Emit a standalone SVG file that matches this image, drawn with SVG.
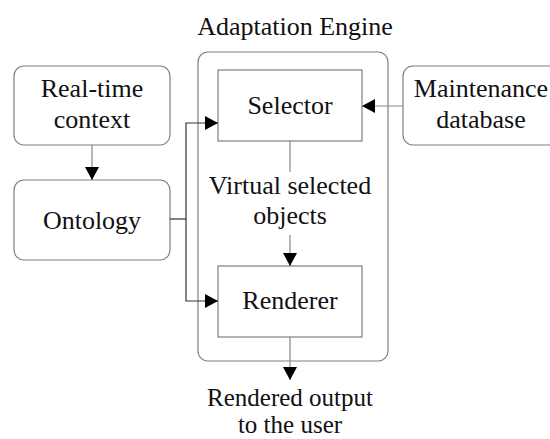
<svg xmlns="http://www.w3.org/2000/svg" width="550" height="439" viewBox="0 0 550 439">
<defs>
<style>
.box{fill:#fff;stroke:#7f7f7f;stroke-width:1.2}
text{font-family:'Liberation Serif','Times New Roman','DejaVu Serif',serif;font-size:26px;fill:#111;text-anchor:middle}
.c{fill:none;stroke:#333;stroke-width:1.2}
.g{fill:none;stroke:#888;stroke-width:1.2}
</style>
<marker id="ah" markerWidth="13" markerHeight="14" refX="13" refY="7" orient="auto" markerUnits="userSpaceOnUse">
<path d="M0,0 L13,7 L0,14 Z" fill="#000"/>
</marker>
</defs>
<rect width="550" height="439" fill="#fff"/>
<g font-family="Liberation Serif, serif" font-size="26">
<g id="engine">
<rect class="box" x="198" y="52" width="190" height="309" rx="10"/>
<text x="295" y="35">Adaptation Engine</text>
</g>
<g id="realtime">
<rect class="box" x="14" y="66" width="156" height="79" rx="10"/>
<text x="92" y="97">Real-time</text>
<text x="92" y="128">context</text>
</g>
<g id="ontology">
<rect class="box" x="14" y="180" width="156" height="80" rx="10"/>
<text x="92" y="229">Ontology</text>
</g>
<g id="selector">
<rect class="box" x="218" y="70" width="144" height="71"/>
<text x="290" y="114">Selector</text>
</g>
<g id="renderer">
<rect class="box" x="218" y="266" width="144" height="71"/>
<text x="290" y="309">Renderer</text>
</g>
<g id="maintenance">
<rect class="box" x="403" y="66" width="160" height="79" rx="10"/>
<text x="481" y="97">Maintenance</text>
<text x="481" y="128">database</text>
</g>
<g id="labels">
<text x="290" y="194">Virtual selected</text>
<text x="290" y="224">objects</text>
<text x="290" y="406" style="font-size:25px">Rendered output</text>
<text x="290" y="433" style="font-size:25px">to the user</text>
</g>
</g>
<g id="connectors">
<line class="g" x1="92" y1="145" x2="92" y2="180" marker-end="url(#ah)"/>
<path class="c" d="M170,219 H186"/>
<path class="c" d="M186,219 V123 H218" marker-end="url(#ah)"/>
<path class="c" d="M186,219 V301 H218" marker-end="url(#ah)"/>
<line class="g" x1="403" y1="106" x2="362" y2="106" marker-end="url(#ah)"/>
<line class="g" x1="290" y1="141" x2="290" y2="172"/>
<line class="g" x1="290" y1="235" x2="290" y2="266" marker-end="url(#ah)"/>
<line class="g" x1="290" y1="337" x2="290" y2="380" marker-end="url(#ah)"/>
</g>
</svg>
